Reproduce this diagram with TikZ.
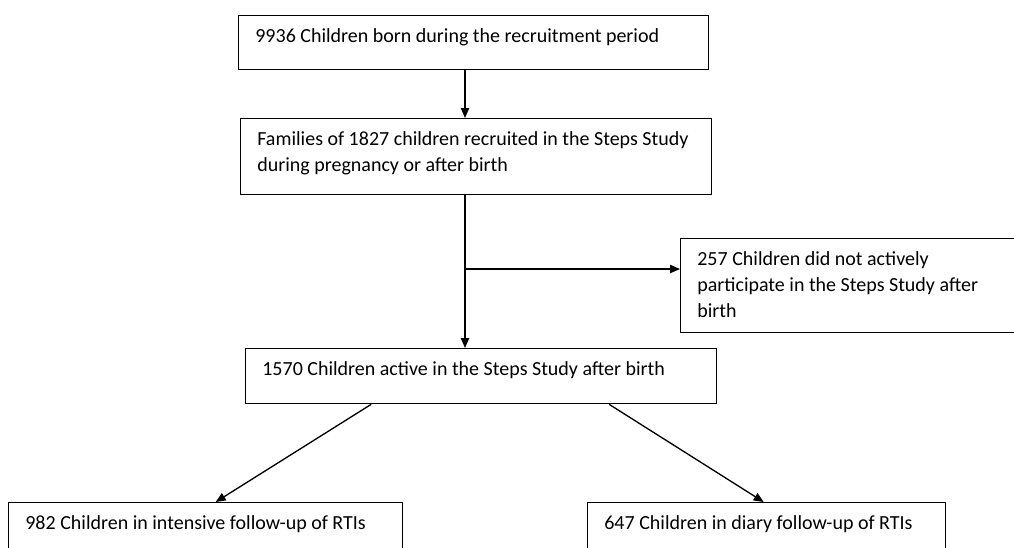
\documentclass[tikz,border=0pt]{standalone}
\usepackage{fontspec}
\setmainfont{Carlito}
\usetikzlibrary{calc,arrows.meta}
\def\flowtext#1#2#3{\parbox[c][#2][t]{#1}{\raggedright\fontsize{12}{15.6}\selectfont #3}}
\tikzset{
	flowbox/.style={draw, line width=0.8pt, rectangle, inner xsep=10pt, inner ysep=8pt, anchor=north west},
	flowarrow/.style={line width=0.8pt, -{Triangle[length=6pt,width=5pt]}}
}

\begin{document}
\begin{tikzpicture}[x=0.6pt, y=-0.6pt]
			%%%%% START %%%%%
			
			\useasboundingbox (0, 0) rectangle (1014, 547);
			\clip (0, 0) rectangle (1014, 547);
			
			\node[flowbox] (born) at (238, 15) {\flowtext{262pt}{16.4pt}{9936 Children born during the recruitment period}};
			\node[flowbox] (recruited) at (240, 118) {\flowtext{262.6pt}{29.6pt}{Families of 1827 children recruited in the Steps Study\\during pregnancy or after birth}};
			\node[flowbox] (notactive) at (680, 238) {\flowtext{240pt}{40.4pt}{257 Children did not actively\\participate in the Steps Study after\\birth}};
			\node[flowbox] (active) at (245, 348) {\flowtext{262.6pt}{17pt}{1570 Children active in the Steps Study after birth}};
			
			\node[flowbox] (intensive) at (8, 502) {\flowtext{216.4pt}{26pt}{982 Children in intensive follow-up of RTIs}};
			\node[flowbox] (diary) at (587, 502) {\flowtext{194.8pt}{26pt}{647 Children in diary follow-up of RTIs}};
			
			\coordinate (trunk) at (465, 0);
			\coordinate (split) at (465, 269);
			
			\draw[flowarrow] (born.south -| trunk) -- (recruited.north -| trunk);
			\draw[flowarrow] (recruited.south -| trunk) -- (active.north -| trunk);
			\draw[flowarrow] (split) -- (split -| notactive.west);
			
			\draw[flowarrow] ($(active.south)+(-110, 0)$) -- ($(intensive.north)+(10, 0)$);
			\draw[flowarrow] ($(active.south)+(128, 0)$) -- ($(diary.north)+(-3, 0)$);
			
			%%%%% END %%%%%
		\end{tikzpicture}
\end{document}
